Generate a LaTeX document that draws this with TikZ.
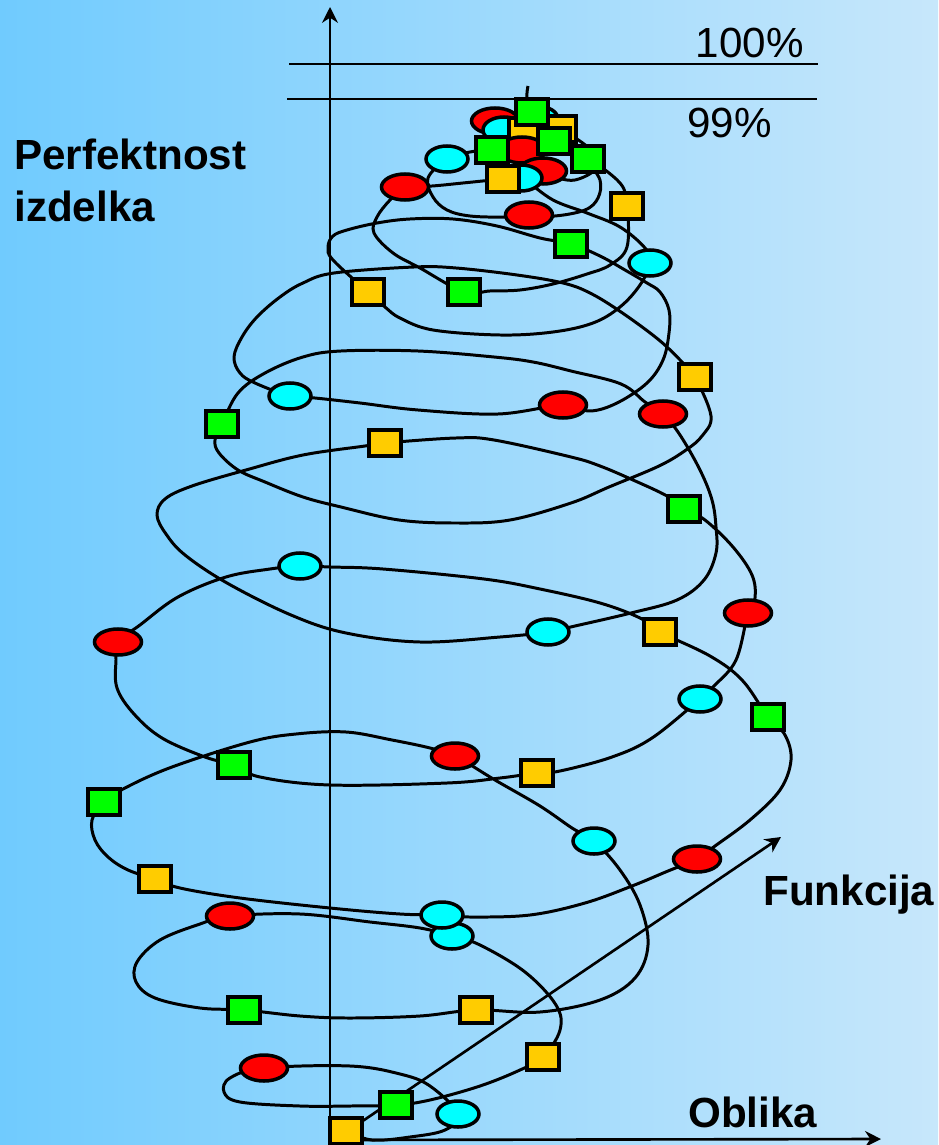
\documentclass[tikz,border=0pt]{standalone}
\usepackage{fontspec}
\setmainfont{Liberation Sans}
\usetikzlibrary{shapes.geometric,arrows.meta}
\pgfdeclarelayer{spiral}
\pgfsetlayers{spiral,main}
\definecolor{skyleft}{RGB}{112,203,254}
\definecolor{skyright}{RGB}{199,231,251}
\definecolor{gold}{HTML}{FFCC00}
\definecolor{aqua}{RGB}{0,255,255}
\definecolor{lime}{RGB}{0,255,0}
\definecolor{pure red}{RGB}{255,0,0}

\begin{document}
\begin{tikzpicture}[x=0.02cm,y=-0.02cm]

\tikzstyle{spiralnode} = [draw=black,line width=2pt,inner sep=0]
\tikzstyle{redspot} = [spiralnode,ellipse,fill=pure red,minimum width=0.94cm,minimum height=0.52cm]
\tikzstyle{cyanspot} = [spiralnode,ellipse,fill=aqua,minimum width=0.84cm,minimum height=0.52cm]
\tikzstyle{greenbox} = [spiralnode,rectangle,fill=lime,minimum width=0.64cm,minimum height=0.52cm]
\tikzstyle{orangebox} = [spiralnode,rectangle,fill=gold,minimum width=0.64cm,minimum height=0.52cm]
\tikzstyle{axisline} = [->,>={Stealth[length=9pt,width=9pt]},line width=1.5pt]
\tikzstyle{spiralline} = [line width=1.7pt]
\tikzstyle{biglabel} = [font=\fontsize{24}{29}\selectfont,inner sep=0]
\tikzstyle{boldlabel} = [biglabel,font=\fontsize{24}{29}\selectfont\bfseries]

\useasboundingbox (0,0) rectangle (938,1145);

\coordinate (O) at (330,1140);
\coordinate (ytip) at (330,7);
\coordinate (xtip) at (881,1139);
\coordinate (fstart) at (345,1133);
\coordinate (ftip) at (781,837);
\coordinate (hundredW) at (289,64);
\coordinate (hundredE) at (818,64);
\coordinate (ninetynineW) at (287,99);
\coordinate (ninetynineE) at (817,99);
\coordinate (tailend) at (528,86);

% markers on the spiral
\node[orangebox] (o1) at (346,1131) {};
\node[cyanspot] (c1) at (458,1114) {};
\node[redspot] (r1) at (264,1068) {};
\node[greenbox] (g1) at (396,1105) {};
\node[orangebox] (o2) at (543,1057) {};
\node[cyanspot] (c2) at (452,936) {};
\node[redspot] (r2) at (230,916) {};
\node[greenbox] (g2) at (244,1010) {};
\node[orangebox] (o3) at (476,1010) {};
\node[cyanspot] (c3) at (594,841) {};
\node[redspot] (r3) at (455,756) {};
\node[greenbox] (g3) at (104,802) {};
\node[orangebox] (o4) at (155,879) {};
\node[cyanspot] (c4) at (442,915) {};
\node[redspot] (r4) at (697,859) {};
\node[greenbox] (g4) at (768,717) {};
\node[orangebox] (o5) at (660,632) {};
\node[cyanspot] (c5) at (300,566) {};
\node[redspot] (r5) at (118,642) {};
\node[greenbox] (g5) at (234,765) {};
\node[orangebox] (o6) at (537,773) {};
\node[cyanspot] (c6) at (700,699) {};
\node[redspot] (r6) at (748,613) {};
\node[greenbox] (g6) at (684,509) {};
\node[orangebox] (o7) at (385,443) {};
\node[cyanspot] (c7) at (548,632) {};
\node[redspot] (r7) at (663,414) {};
\node[greenbox] (g7) at (222,424) {};
\node[orangebox] (o8) at (695,377) {};
\node[cyanspot] (c8) at (290,396) {};
\node[redspot] (r8) at (563,405) {};
\node[greenbox] (g8) at (571,244) {};
\node[orangebox] (o9) at (368,292) {};
\node[cyanspot] (c9) at (650,263) {};
\node[redspot] (r9) at (405,187) {};
\node[greenbox] (g9) at (464,292) {};
\node[orangebox] (o11) at (627,206) {};
\node[redspot] (r10) at (529,215) {};
\node[redspot] (r13) at (495,121) {};
\node[cyanspot] (c12) at (537,119) {};
\node[cyanspot] (c13) at (504,130) {};
\node[orangebox] (o13) at (525,131) {};
\node[orangebox] (o12) at (560,129) {};
\node[redspot] (r11) at (522,150) {};
\node[greenbox] (g11) at (492,150) {};
\node[greenbox] (g12) at (554,141) {};
\node[greenbox] (g13) at (532,112) {};
\node[redspot] (r12) at (543,171) {};
\node[cyanspot] (c10) at (521,178) {};
\node[orangebox] (o10) at (503,179) {};
\node[greenbox] (g10) at (588,159) {};
\node[cyanspot] (c11) at (447,159) {};

\node[boldlabel,anchor=base west] (ylabA) at (14,170) {Perfektnost};
\node[boldlabel,anchor=base west] (ylabB) at (14,222) {izdelka};
\node[biglabel,anchor=base east] (lab100) at (804,58) {100\%};
\node[biglabel,anchor=base west] (lab99) at (687,138) {99\%};
\node[boldlabel,anchor=base west] (funk) at (763,905) {Funkcija};
\node[boldlabel,anchor=base west] (obl) at (688,1127) {Oblika};

\begin{pgfonlayer}{spiral}
\shade[left color=skyleft,right color=skyright] (0,0) rectangle (938,1145);

\draw[line width=1.5pt] (hundredW) -- (hundredE);
\draw[line width=1.5pt] (ninetynineW) -- (ninetynineE);
\draw[axisline] (O |- 0,1145) -- (ytip);
\draw[axisline] (O) -- (xtip);
\draw[axisline] (fstart) -- (ftip);

\draw[spiralline] plot[smooth,tension=0.6] coordinates {
  (o1) (372,1140) (410,1137) (445,1130) (c1) (430,1086) (400,1074) (350,1066)
  (r1) (230,1078) (224,1092) (240,1102) (300,1106) (350,1106)
  (g1) (430,1100) (480,1086) (520,1070)
  (o2) (560,1030) (556,1005) (525,972) (480,945)
  (c2) (420,928) (370,922) (300,914)
  (r2) (200,924) (160,940) (137,962) (136,982) (155,998) (200,1008)
  (g2) (300,1016) (350,1018) (420,1016)
  (o3) (540,1012) (600,1000) (635,978) (648,945) (640,905) (620,870)
  (c3) (572,828) (540,806) (495,780)
  (r3) (430,748) (392,740) (346,732) (296,734) (250,742) (172,767) (125,788)
  (g3) (92,820) (95,840) (108,857) (128,870)
  (o4) (180,888) (240,898) (330,908) (400,914)
  (c4) (470,917) (530,915) (585,903) (632,886) (668,871)
  (r4) (715,846) (750,820) (780,790) (791,760) (785,735)
  (g4) (742,680) (710,656)
  (o5) (640,618) (600,603) (540,589) (484,579) (383,569) (330,567)
  (c5) (270,569) (226,577) (178,597) (140,625)
  (r5) (116,660) (117,688) (134,714) (162,738) (205,757)
  (g5) (260,777) (330,785) (447,783) (500,778)
  (o6) (560,771) (612,757) (652,738)
  (c6) (714,686) (736,660)
  (r6) (755,598) (752,575) (733,547) (705,520)
  (g6) (667,496) (633,480) (600,466) (571,457) (494,440) (456,438)
  (o7) (365,446) (303,455) (246,470) (192,486) (165,499) (157,515) (166,534)
       (185,555) (227,583) (291,615) (346,633) (420,642) (500,637)
  (c7) (575,626) (631,613) (677,600) (704,580) (716,553) (716,527) (712,500)
       (700,470) (680,435)
  (r7) (645,402) (621,384) (571,371) (533,362) (494,357) (418,351) (341,351)
       (303,357) (265,373) (238,393)
  (g7) (215,440) (219,453) (238,470) (265,482) (303,497) (341,507) (399,520)
       (456,523) (510,520) (571,503) (609,487) (659,466) (686,450) (702,436) (711,416)
  (o8) (683,363) (659,340) (621,312) (590,293) (563,283) (517,275) (456,268)
       (414,267) (334,273) (303,283) (280,297) (257,317) (242,337) (234,357)
       (240,373) (255,383)
  (c8) (315,398) (360,403) (418,410) (498,414)
  (r8) (590,411) (617,403) (647,383) (663,360) (669,333) (669,310) (660,292)
       (647,283) (625,270) (600,256)
  (g8) (540,238) (497,226) (453,219) (410,219) (377,223) (347,230) (333,236)
       (328,247) (333,260)
  (o9) (385,307) (400,318) (433,330) (500,335) (553,332) (593,323) (620,307) (640,285)
  (c9) (645,248) (620,227) (587,213) (553,200)
  (c10) (o10) (463,183) (432,186)
  (r9) (390,200) (377,217) (374,233) (393,253) (420,268)
  (g9) (490,291) (520,290) (553,284) (587,274) (610,265) (627,247)
  (o11) (620,183)
  (g10) (600,180) (598,198) (585,210) (555,216)
  (r10) (505,217) (470,216) (447,210) (433,197) (428,178)
  (c11) (470,152) (g11) (r11) (r12) (575,180) (600,160)
  (o12) (g12) (c12) (r13) (c13) (o13) (g13) (527,98) (tailend)
};
\end{pgfonlayer}

\end{tikzpicture}
\end{document}
